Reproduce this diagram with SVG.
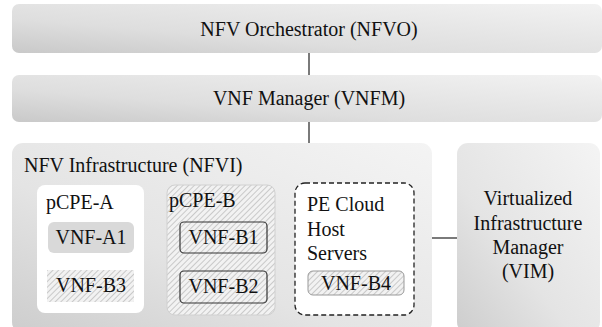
<svg xmlns="http://www.w3.org/2000/svg" width="602" height="327" viewBox="0 0 602 327" font-family="'Liberation Serif', 'DejaVu Serif', serif" font-size="20">
<defs>
<linearGradient id="gBar" x1="0" y1="1" x2="1" y2="0">
<stop offset="0" stop-color="#c9c9c9"/>
<stop offset="0.35" stop-color="#dedede"/>
<stop offset="1" stop-color="#f2f2f2"/>
</linearGradient>
<linearGradient id="gBox" x1="0" y1="1" x2="1" y2="0">
<stop offset="0" stop-color="#cdcdcd"/>
<stop offset="0.4" stop-color="#e4e4e4"/>
<stop offset="1" stop-color="#f4f4f4"/>
</linearGradient>
<pattern id="hatch" width="4" height="4" patternUnits="userSpaceOnUse" patternTransform="rotate(45)">
<rect width="4" height="4" fill="#f2f2f2"/>
<line x1="0" y1="0" x2="0" y2="4" stroke="#a8a8a8" stroke-width="1.1"/>
</pattern>
<style>
.t{fill:#111}
.c{text-anchor:middle}
.conn{stroke:#7a7a7a;stroke-width:2;fill:none}
</style>
</defs>
<g id="connectors">
<line class="conn" x1="309" y1="53" x2="309" y2="75"/>
<line class="conn" x1="309" y1="122" x2="309" y2="143"/>
<line class="conn" x1="432" y1="238" x2="457" y2="238"/>
</g>
<g id="nfvo">
<rect x="12" y="4" width="590" height="49" rx="7" fill="url(#gBar)"/>
<text class="t c" x="309" y="36" font-family="Liberation Serif">NFV Orchestrator (NFVO)</text>
</g>
<g id="vnfm">
<rect x="12" y="75" width="590" height="47" rx="7" fill="url(#gBar)"/>
<text class="t c" x="309" y="105">VNF Manager (VNFM)</text>
</g>
<g id="nfvi">
<rect x="12" y="143" width="420" height="190" rx="11" fill="url(#gBox)"/>
<text class="t" x="24" y="172">NFV Infrastructure (NFVI)</text>
</g>
<g id="pcpe-a">
<rect x="37" y="185" width="107" height="128" rx="8" fill="#ffffff"/>
<text class="t" x="46" y="209">pCPE-A</text>
</g>
<g id="vnf-a1">
<rect x="48" y="222" width="86" height="31" rx="6" fill="#d9d9d9"/>
<text class="t c" x="91" y="244">VNF-A1</text>
</g>
<g id="vnf-b3">
<rect x="47" y="270" width="87" height="32" fill="url(#hatch)"/>
<text class="t c" x="91" y="292">VNF-B3</text>
</g>
<g id="pcpe-b">
<rect x="167" y="185" width="108" height="130" rx="8" fill="url(#hatch)" stroke="#d0d0d0" stroke-width="1"/>
<text class="t" x="169" y="207">pCPE-B</text>
</g>
<g id="vnf-b1">
<rect x="180" y="222" width="87" height="31" rx="4" fill="none" stroke="#333" stroke-width="1.2"/>
<text class="t c" x="223.5" y="244">VNF-B1</text>
</g>
<g id="vnf-b2">
<rect x="180" y="271" width="87" height="32" rx="4" fill="none" stroke="#333" stroke-width="1.2"/>
<text class="t c" x="223.5" y="293">VNF-B2</text>
</g>
<g id="pe-cloud">
<rect x="295" y="183" width="119" height="132" rx="10" fill="#ffffff" stroke="#222" stroke-width="1.3" stroke-dasharray="5,3"/>
<text class="t" x="307" y="211">PE Cloud</text>
<text class="t" x="307" y="236">Host</text>
<text class="t" x="307" y="260">Servers</text>
</g>
<g id="vnf-b4">
<rect x="308" y="271" width="96" height="24" rx="5" fill="url(#hatch)" stroke="#999" stroke-width="1"/>
<text class="t c" x="356" y="290">VNF-B4</text>
</g>
<g id="vim">
<rect x="457" y="143" width="143" height="190" rx="11" fill="url(#gBox)"/>
<text class="t c" x="528" y="205">Virtualized</text>
<text class="t c" x="528" y="230">Infrastructure</text>
<text class="t c" x="528" y="254">Manager</text>
<text class="t c" x="528" y="278">(VIM)</text>
</g>
</svg>
